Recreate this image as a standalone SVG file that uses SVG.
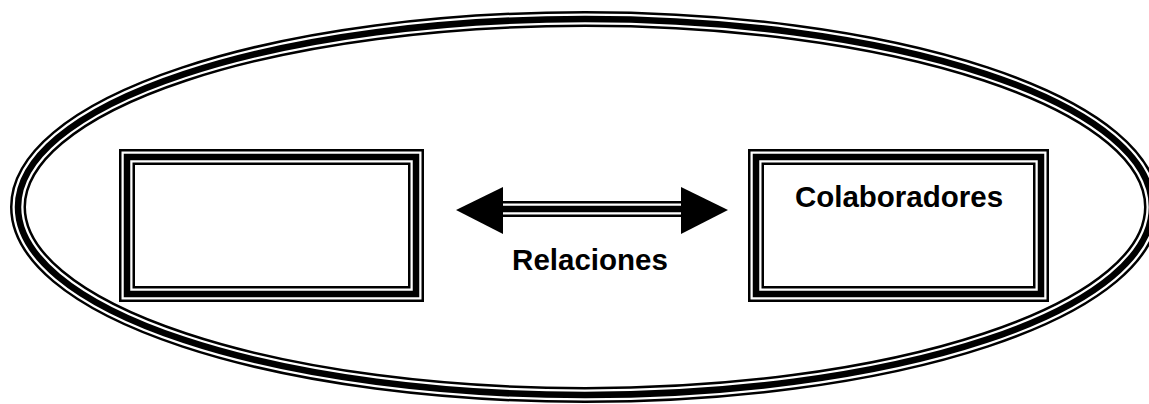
<svg xmlns="http://www.w3.org/2000/svg" xmlns:xlink="http://www.w3.org/1999/xlink" width="1149" height="404" viewBox="0 0 1149 404">
  <style>
    /* triple line: thin / thick / thin, built from three stacked strokes */
    .tl-outer { fill: none; stroke: #000; stroke-width: 16; }
    .tl-gap   { fill: none; stroke: #fff; stroke-width: 11; }
    .tl-core  { fill: none; stroke: #000; stroke-width: 6.5; }
    .box-fill { fill: #fff; stroke: none; }
    .head     { fill: #000; stroke: none; }
    .label    { font-family: "Liberation Sans", Arial, Helvetica, sans-serif; font-weight: bold; font-size: 29.5px; fill: #000; text-anchor: middle; }
  </style>
  <defs>
    <ellipse id="boundary-shape" cx="585" cy="207" rx="567" ry="188"/>
    <rect id="box-left-shape" x="127" y="157" width="289" height="137"/>
    <rect id="box-right-shape" x="756" y="157" width="285" height="137"/>
    <line id="shaft-shape" x1="500" y1="209" x2="684" y2="209"/>
  </defs>

  <rect width="1149" height="404" fill="#fff"/>

  <!-- enclosing boundary -->
  <g id="boundary">
    <use xlink:href="#boundary-shape" class="tl-outer"/>
    <use xlink:href="#boundary-shape" class="tl-gap"/>
    <use xlink:href="#boundary-shape" class="tl-core"/>
  </g>

  <!-- left box (empty) -->
  <g id="box-left">
    <use xlink:href="#box-left-shape" class="box-fill"/>
    <use xlink:href="#box-left-shape" class="tl-outer"/>
    <use xlink:href="#box-left-shape" class="tl-gap"/>
    <use xlink:href="#box-left-shape" class="tl-core"/>
  </g>

  <!-- right box -->
  <g id="box-right">
    <use xlink:href="#box-right-shape" class="box-fill"/>
    <use xlink:href="#box-right-shape" class="tl-outer"/>
    <use xlink:href="#box-right-shape" class="tl-gap"/>
    <use xlink:href="#box-right-shape" class="tl-core"/>
    <text class="label" x="899" y="207">Colaboradores</text>
  </g>

  <!-- two-way relation between the boxes -->
  <g id="connectors">
    <g id="relation">
      <use xlink:href="#shaft-shape" class="tl-outer"/>
      <use xlink:href="#shaft-shape" class="tl-gap"/>
      <use xlink:href="#shaft-shape" class="tl-core"/>
      <polygon class="head" points="456,210 503,187 503,234"/>
      <polygon class="head" points="728,210 681,187 681,234"/>
      <text class="label" x="590" y="270">Relaciones</text>
    </g>
  </g>
</svg>
